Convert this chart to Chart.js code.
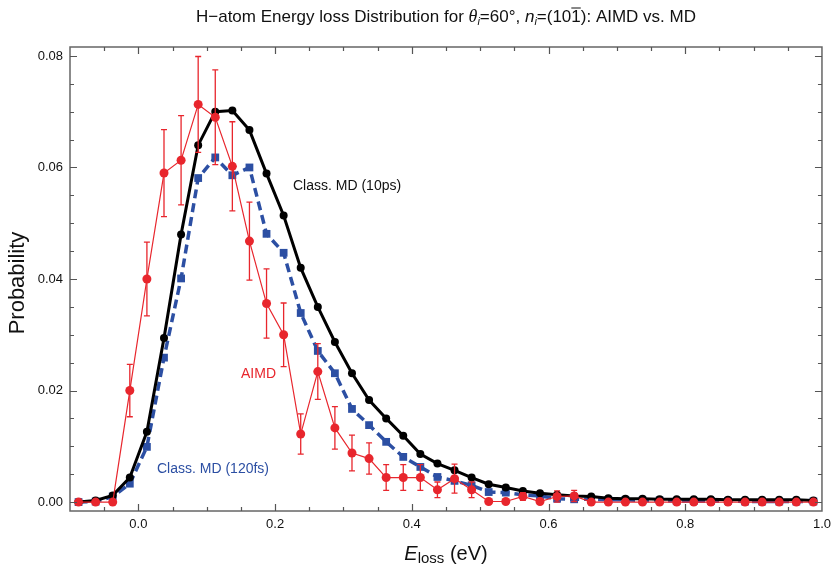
<!DOCTYPE html>
<html>
<head>
<meta charset="utf-8">
<script src="https://cdn.jsdelivr.net/npm/chart.js@4.4.1/dist/chart.umd.min.js"></script>
<style>
  html, body { margin: 0; padding: 0; background: #ffffff; }
  #wrap { width: 837px; height: 566px; }
</style>
</head>
<body>
<div id="wrap"><canvas id="c" width="837" height="566"></canvas></div>
<script>
// ---- data ----
const energyLoss = [-0.0875,-0.0625,-0.0375,-0.0125,0.0125,0.0375,0.0625,0.0875,0.1125,0.1375,0.1625,0.1875,0.2125,0.2375,0.2625,0.2875,0.3125,0.3375,0.3625,0.3875,0.4125,0.4375,0.4625,0.4875,0.5125,0.5375,0.5625,0.5875,0.6125,0.6375,0.6625,0.6875,0.7125,0.7375,0.7625,0.7875,0.8125,0.8375,0.8625,0.8875,0.9125,0.9375,0.9625,0.9875];
const md10ps = [0.0000,0.0003,0.0012,0.0044,0.0126,0.0294,0.0480,0.0640,0.0700,0.0702,0.0667,0.0589,0.0514,0.0420,0.0350,0.0287,0.0231,0.0183,0.0150,0.0119,0.0086,0.0069,0.0057,0.0044,0.0032,0.0026,0.0020,0.0016,0.0013,0.0011,0.0010,0.0007,0.0006,0.0006,0.0005,0.0005,0.0005,0.0005,0.0004,0.0004,0.0004,0.0004,0.0004,0.0003];
const md120fs = [0.0000,0.0001,0.0010,0.0033,0.0099,0.0259,0.0401,0.0581,0.0618,0.0586,0.0600,0.0481,0.0447,0.0339,0.0271,0.0231,0.0167,0.0138,0.0108,0.0081,0.0063,0.0045,0.0038,0.0030,0.0018,0.0017,0.0013,0.0011,0.0006,0.0005,0.0005,0.0004,0.0004,0.0003,0.0003,0.0002,0.0002,0.0002,0.0002,0.0001,0.0001,0.0001,0.0001,0.0001];
const aimd = [0.0000,0.0000,0.0000,0.0200,0.0400,0.0590,0.0613,0.0713,0.0690,0.0602,0.0468,0.0356,0.0300,0.0122,0.0234,0.0133,0.0088,0.0078,0.0044,0.0044,0.0044,0.0022,0.0042,0.0022,0.0001,0.0001,0.0010,0.0001,0.0010,0.0011,0.0000,0.0000,0.0000,0.0000,0.0000,0.0000,0.0000,0.0000,0.0000,0.0000,0.0000,0.0000,0.0000,0.0000];
const aimdErr = [0,0,0,0.0047,0.0066,0.0078,0.0080,0.0086,0.0085,0.0080,0.0070,0.0062,0.0057,0.0036,0.0050,0.0038,0.0032,0.0028,0.0023,0.0023,0.0023,0.0014,0.0026,0.0014,0,0,0.0007,0,0.0010,0.0010,0,0,0,0,0,0,0,0,0,0,0,0,0,0];

const xTickValues = [0.0,0.2,0.4,0.6,0.8,1.0];
const xTickLabels = ['0.0','0.2','0.4','0.6','0.8','1.0'];
const yTickValues = [0.00,0.02,0.04,0.06,0.08];
const yTickLabels = ['0.00','0.02','0.04','0.06','0.08'];

const seriesNames = ['AIMD','Class. MD (10ps)','Class. MD (120fs)'];
const annotationText = { md10: 'Class. MD (10ps)', aimd: 'AIMD', md120: 'Class. MD (120fs)' };

const RED = '#e8262d', BLUE = '#2c4fa3', BLACK = '#000000';
const SANS = "'Liberation Sans', Arial, Helvetica, sans-serif";
const SERIF = "'Liberation Serif', 'DejaVu Serif', serif";

const pts = (ys) => energyLoss.map((x, i) => ({ x: x, y: ys[i] }));

function drawRich(ctx, segs, cx, baseY, overY) {
  let total = 0;
  segs.forEach(s => { ctx.font = s.font; s.w = ctx.measureText(s.t).width; total += s.w + (s.gap || 0); });
  let x = cx - total / 2;
  ctx.textAlign = 'left';
  ctx.textBaseline = 'alphabetic';
  segs.forEach(s => {
    ctx.font = s.font;
    ctx.fillText(s.t, x, baseY + (s.dy || 0));
    if (s.over) {
      ctx.save();
      ctx.lineWidth = 1;
      ctx.strokeStyle = ctx.fillStyle;
      ctx.beginPath();
      ctx.moveTo(x, baseY - overY);
      ctx.lineTo(x + s.w, baseY - overY);
      ctx.stroke();
      ctx.restore();
    }
    x += s.w + (s.gap || 0);
  });
}

const decor = {
  id: 'decor',
  afterDatasetsDraw(chart) {
    const ctx = chart.ctx;
    const xs = chart.scales.x, ys = chart.scales.y;
    const a = chart.chartArea;
    ctx.save();
    // error bars for AIMD
    ctx.strokeStyle = RED;
    ctx.lineWidth = 1.3;
    aimdErr.forEach((e, i) => {
      if (!e) return;
      const px = xs.getPixelForValue(energyLoss[i]);
      const top = ys.getPixelForValue(aimd[i] + e);
      const bot = ys.getPixelForValue(aimd[i] - e);
      ctx.beginPath();
      ctx.moveTo(px, top); ctx.lineTo(px, bot);
      ctx.moveTo(px - 3, top); ctx.lineTo(px + 3, top);
      ctx.moveTo(px - 3, bot); ctx.lineTo(px + 3, bot);
      ctx.stroke();
    });
    // frame
    ctx.strokeStyle = '#666666';
    ctx.lineWidth = 1.5;
    ctx.strokeRect(a.left, a.top, a.right - a.left, a.bottom - a.top);
    // inward ticks
    ctx.strokeStyle = '#555555';
    ctx.lineWidth = 1.2;
    ctx.beginPath();
    for (let k = -1; k <= 20; k++) {
      const v = k * 0.05;
      if (v <= xs.min + 1e-9 || v >= xs.max - 1e-9) continue;
      const px = Math.round(xs.getPixelForValue(v)) + 0.5;
      const len = (k % 4 === 0) ? 7 : 4;
      ctx.moveTo(px, a.bottom); ctx.lineTo(px, a.bottom - len);
      ctx.moveTo(px, a.top); ctx.lineTo(px, a.top + len);
    }
    for (let k = 0; k <= 16; k++) {
      const v = k * 0.005;
      const py = Math.round(ys.getPixelForValue(v)) + 0.5;
      const len = (k % 4 === 0) ? 7 : 4;
      ctx.moveTo(a.left, py); ctx.lineTo(a.left + len, py);
      ctx.moveTo(a.right, py); ctx.lineTo(a.right - len, py);
    }
    ctx.stroke();
    ctx.restore();
  },
  afterDraw(chart) {
    const ctx = chart.ctx;
    const a = chart.chartArea;
    const cx = (a.left + a.right) / 2;
    ctx.save();
    ctx.fillStyle = '#111111';
    // title
    drawRich(ctx, [
      { t: 'H\u2212atom Energy loss Distribution for ', font: '17px ' + SANS },
      { t: '\u03b8', font: 'italic 18px ' + SERIF },
      { t: 'i', font: 'italic 11px ' + SANS, dy: 3 },
      { t: '=60\u00b0, ', font: '17px ' + SANS },
      { t: 'n', font: 'italic 17px ' + SANS },
      { t: 'i', font: 'italic 11px ' + SANS, dy: 3 },
      { t: '=(10', font: '17px ' + SANS },
      { t: '1', font: '17px ' + SANS, over: true },
      { t: '): AIMD vs. MD', font: '17px ' + SANS }
    ], cx, 22, 14);
    // x axis title
    drawRich(ctx, [
      { t: 'E', font: 'italic 20px ' + SANS },
      { t: 'loss', font: '15px ' + SANS, dy: 3 },
      { t: ' (eV)', font: '20px ' + SANS }
    ], cx, 560, 0);
    // y axis title
    ctx.save();
    ctx.translate(24, (a.top + a.bottom) / 2 + 4);
    ctx.rotate(-Math.PI / 2);
    ctx.font = '22px ' + SANS;
    ctx.textAlign = 'center';
    ctx.textBaseline = 'alphabetic';
    ctx.fillText('Probability', 0, 0);
    ctx.restore();
    // in-plot labels
    ctx.font = '14px ' + SANS;
    ctx.textAlign = 'left';
    ctx.textBaseline = 'middle';
    ctx.fillStyle = '#111111';
    ctx.fillText(annotationText.md10, 293, 186);
    ctx.fillStyle = RED;
    ctx.fillText(annotationText.aimd, 241, 374);
    ctx.fillStyle = BLUE;
    ctx.fillText(annotationText.md120, 157, 469);
    ctx.restore();
  }
};

new Chart(document.getElementById('c'), {
  type: 'scatter',
  data: {
    datasets: [
      {
        label: seriesNames[0], data: pts(aimd), showLine: true,
        borderColor: RED, backgroundColor: RED, borderWidth: 1.2,
        pointStyle: 'circle', pointRadius: 4.5, pointBorderWidth: 0,
        pointBackgroundColor: RED, tension: 0
      },
      {
        label: seriesNames[1], data: pts(md10ps), showLine: true,
        borderColor: BLACK, backgroundColor: BLACK, borderWidth: 3,
        pointStyle: 'circle', pointRadius: 4, pointBorderWidth: 0,
        pointBackgroundColor: BLACK, tension: 0
      },
      {
        label: seriesNames[2], data: pts(md120fs), showLine: true,
        borderColor: BLUE, backgroundColor: BLUE, borderWidth: 3.5, borderDash: [9, 5],
        pointStyle: 'rect', pointRadius: 5.5, pointBorderWidth: 0,
        pointBackgroundColor: BLUE, tension: 0
      }
    ]
  },
  options: {
    responsive: false,
    animation: false,
    events: [],
    layout: { padding: { top: 47, right: 14, bottom: 0, left: 0 } },
    plugins: { legend: { display: false }, title: { display: false }, tooltip: { enabled: false } },
    scales: {
      x: {
        type: 'linear', min: -0.1, max: 1.0,
        grid: { display: false, drawTicks: false },
        border: { display: false },
        afterBuildTicks: (s) => { s.ticks = xTickValues.map(v => ({ value: v })); },
        afterFit: (s) => { s.height = 55; },
        ticks: {
          padding: 6, color: '#111111', font: { family: SANS, size: 13 },
          callback: (v) => { const i = xTickValues.findIndex(t => Math.abs(t - v) < 1e-9); return i >= 0 ? xTickLabels[i] : ''; }
        }
      },
      y: {
        type: 'linear', min: -0.0016, max: 0.0816,
        grid: { display: false, drawTicks: false },
        border: { display: false },
        afterBuildTicks: (s) => { s.ticks = yTickValues.map(v => ({ value: v })); },
        afterFit: (s) => { s.width = 70; },
        ticks: {
          padding: 7, color: '#111111', font: { family: SANS, size: 13 },
          callback: (v) => { const i = yTickValues.findIndex(t => Math.abs(t - v) < 1e-9); return i >= 0 ? yTickLabels[i] : ''; }
        }
      }
    }
  },
  plugins: [decor]
});
</script>
</body>
</html>
